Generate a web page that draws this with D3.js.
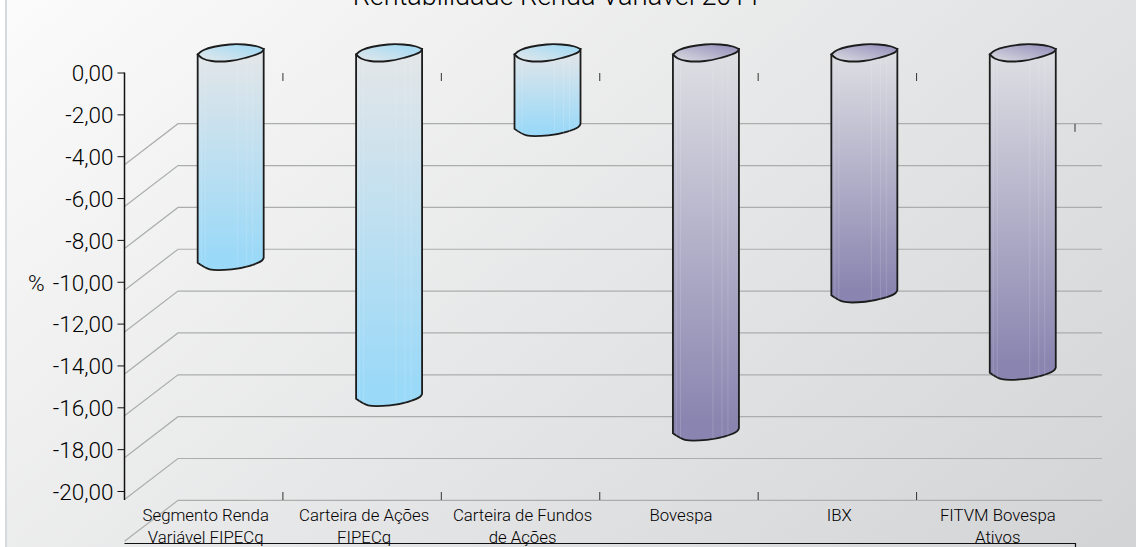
<!DOCTYPE html>
<html>
<head>
<meta charset="utf-8">
<script src="https://cdn.jsdelivr.net/npm/d3@7"></script>
<style>
  html, body { margin: 0; padding: 0; background: #fff; overflow: hidden; }
  text { font-family: Roboto, "Open Sans", sans-serif; font-weight: 300; fill: #000; }
</style>
</head>
<body>
<div id="chart"></div>
<script>
var categories = [
  ['Segmento Renda', 'Variável FIPECq'],
  ['Carteira de Ações', 'FIPECq'],
  ['Carteira de Fundos', 'de Ações'],
  ['Bovespa'],
  ['IBX'],
  ['FITVM Bovespa', 'Ativos']
];
var values = [-10.05, -16.55, -3.65, -18.2, -11.6, -15.3];
var seriesGroup = [0, 0, 0, 1, 1, 1];
var yTicks = [0, -2, -4, -6, -8, -10, -12, -14, -16, -18, -20];
var gridValues = [-4, -6, -8, -10, -12, -14, -16, -18, -20, -22];
var chartTitle = 'Rentabilidade Renda Variável 2011';

var width = 1136, height = 547;
var depthX = 53.5, depthY = 41;   // oblique offset of the 3d floor
var svg = d3.select('#chart').append('svg')
  .attr('width', width).attr('height', height)
  .style('display', 'block');

var x = d3.scaleBand().domain(d3.range(categories.length)).range([124.5, 1075]);
var y = d3.scaleLinear().domain([0, -20]).range([72.5, 491]);

var defs = svg.append('defs');
var bg = defs.append('linearGradient').attr('id', 'bg')
  .attr('gradientUnits', 'userSpaceOnUse')
  .attr('x1', 150).attr('y1', -150).attr('x2', 900).attr('y2', 760);
bg.append('stop').attr('offset', 0).attr('stop-color', '#fcfcfc');
bg.append('stop').attr('offset', 1).attr('stop-color', '#d2d3d5');

var bodyColors = [['#e4e6e8', '#9ad9f8'], ['#dfe0e4', '#8a85b0']];
var topColors = [['#e4e8ea', '#9cd8f5'], ['#dddde2', '#8f8ab8']];
bodyColors.forEach(function(c, i) {
  var g = defs.append('linearGradient').attr('id', 'body' + i)
    .attr('x1', 0).attr('x2', 0).attr('y1', 0).attr('y2', 1);
  g.append('stop').attr('offset', 0).attr('stop-color', c[0]);
  g.append('stop').attr('offset', 0.95).attr('stop-color', c[1]);
  var t = defs.append('linearGradient').attr('id', 'top' + i)
    .attr('x1', 0).attr('y1', 1).attr('x2', 1).attr('y2', 0);
  t.append('stop').attr('offset', 0).attr('stop-color', topColors[i][0]);
  t.append('stop').attr('offset', 1).attr('stop-color', topColors[i][1]);
});

svg.append('rect').attr('x', 6).attr('width', width).attr('height', height)
  .attr('fill', 'url(#bg)');
svg.append('line').attr('x1', 6).attr('x2', 6).attr('y1', 0).attr('y2', height)
  .attr('stroke', '#d6dade').attr('stroke-width', 2);

// floor and back wall lines
var grid = svg.append('g').attr('fill', 'none')
  .attr('stroke', '#acadad').attr('stroke-width', 1.2);
gridValues.forEach(function(v) {
  var back = y(v) - 32.5;
  grid.append('path').attr('d', d3.line()([
    [124.5, back + depthY], [124.5 + depthX, back], [1102, back]
  ]));
});

// little ticks at the category boundaries
var tickXs = x.domain().map(function(d) { return x(d) + x.step(); });
var ticks = svg.append('g').attr('stroke', '#333').attr('stroke-width', 1);
tickXs.forEach(function(tx, i) {
  var top = i == 5 ? y(-2.45) : y(0) + 0.5;
  ticks.append('line').attr('x1', tx).attr('x2', tx).attr('y1', top).attr('y2', top + 8);
  if (i < 5) {
    ticks.append('line').attr('x1', tx).attr('x2', tx).attr('y1', y(-20) + 1).attr('y2', y(-20) + 9);
  }
});

// cylinders
var barW = x.step() * 0.417;
var barShift = 27;
var capUpper = [[0, 54.5], [6, 50], [32, 44.5], [47, 44.5], [60, 46.5], [66, 49]];
var capLower = [[66, 49], [64, 52], [47, 58], [32, 61], [14, 61], [5, 58.5], [0, 54.5]];
var endCurve = [[66, -12], [64, -9], [52, -4], [34, -0.5], [12, -0.5], [0, -7]];
var strips = [3.5, 7.5, 40, 49, 55];
var lineCurve = d3.line().curve(d3.curveCatmullRom.alpha(0.5));

var bars = svg.selectAll('g.bar').data(values).enter().append('g').attr('class', 'bar')
  .attr('transform', function(d, i) {
    return 'translate(' + (x(i) + x.bandwidth() / 2 + barShift - barW / 2) + ',0)';
  });

bars.append('path')
  .attr('fill', function(d, i) { return 'url(#body' + seriesGroup[i] + ')'; })
  .attr('stroke', '#1c1c1c').attr('stroke-width', 1.8)
  .attr('d', function(d) {
    var end = y(d) - 13;
    var pts = endCurve.map(function(p) { return [p[0], end + p[1]]; });
    return 'M0,' + capUpper[0][1] + 'L66,' + capUpper[5][1] + 'L' + lineCurve(pts).slice(1) + 'Z';
  });

bars.each(function(d) {
  var g = d3.select(this);
  strips.forEach(function(s) {
    g.append('line').attr('x1', s).attr('x2', s).attr('y1', 58).attr('y2', y(d) - 15)
      .attr('stroke', '#fff').attr('stroke-opacity', 0.14);
  });
});

bars.append('path')
  .attr('fill', function(d, i) { return 'url(#top' + seriesGroup[i] + ')'; })
  .attr('stroke', '#1c1c1c').attr('stroke-width', 1.8)
  .attr('d', lineCurve(capUpper) + 'L' + lineCurve(capLower).slice(1) + 'Z');

// y axis
var axis = svg.append('g').attr('transform', 'translate(124.5,0)')
  .call(d3.axisLeft(y).tickValues(yTicks).tickSize(7).tickPadding(4)
    .tickFormat(function(d) { return d.toFixed(2).replace('.', ','); }));
axis.select('.domain').remove();
axis.selectAll('line').attr('stroke', '#111').attr('stroke-width', 1);
axis.selectAll('text').style('font-size', '22.5px').style('font-family', 'Roboto')
  .style('font-weight', 300).attr('dy', '0.37em').attr('fill', '#000');
axis.append('line').attr('x1', 0).attr('x2', 0).attr('y1', y(0)).attr('y2', y(-20) + 9)
  .attr('stroke', '#111').attr('stroke-width', 1.5);

svg.append('text').attr('x', 28).attr('y', 291).style('font-size', '22.5px').text('%');

// bottom box line
svg.append('path').attr('fill', 'none').attr('stroke', '#111').attr('stroke-width', 1.2)
  .attr('d', d3.line()([[124.5, 543.5], [1075.5, 543.5], [1075.5, 547]]));

// category labels
categories.forEach(function(lines, i) {
  var t = svg.append('text').attr('text-anchor', 'middle').style('font-size', '16.8px');
  lines.forEach(function(s, j) {
    t.append('tspan').attr('x', x(i) + x.bandwidth() / 2 + 2).attr('y', 521 + j * 22).text(s);
  });
});

svg.append('text').attr('x', 557).attr('y', 5).attr('text-anchor', 'middle')
  .style('font-size', '27px').text(chartTitle);
</script>
</body>
</html>
